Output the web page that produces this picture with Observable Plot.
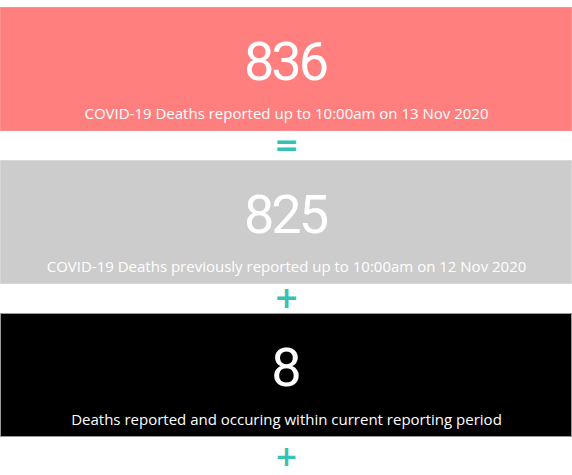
<!DOCTYPE html>
<html>
<head>
<meta charset="utf-8">
<script src="https://cdn.jsdelivr.net/npm/d3@7"></script>
<script src="https://cdn.jsdelivr.net/npm/@observablehq/plot@0.6"></script>
<style>
  html, body { margin: 0; padding: 0; background: #ffffff; }
  #chart svg { display: block; }
  .num text { letter-spacing: -3px; }
</style>
</head>
<body>
<div id="chart"></div>
<script>
const panelIndex = [0, 1, 2];
const values = [836, 825, 8];
const labels = [
  "COVID-19 Deaths reported up to 10:00am on 13 Nov 2020",
  "COVID-19 Deaths previously reported up to 10:00am on 12 Nov 2020",
  "Deaths reported and occuring within current reporting period"
];
const panelColors = ["#FF7F7F", "#CCCCCC", "#000000"];
const borderColors = ["#FF9090", "#D8D8D8", "#9A9A9A"];
const operators = ["=", "+", "+"];

const rows = panelIndex.map((i) => ({
  i,
  value: values[i],
  label: labels[i],
  color: panelColors[i],
  border: borderColors[i],
  op: operators[i]
}));

const teal = "#35C2B3";

const chart = Plot.plot({
  width: 572,
  height: 475,
  margin: 0,
  style: { background: "#ffffff" },
  x: { axis: null },
  y: {
    type: "band",
    domain: panelIndex,
    range: [6, 439],
    paddingInner: 0.187,
    paddingOuter: 0,
    axis: null
  },
  marks: [
    Plot.cell(rows, { y: "i", fill: "color", stroke: "border", strokeWidth: 1, inset: 0.5 }),
    Plot.text(rows, {
      y: "i",
      text: (d) => String(d.value),
      fill: "#ffffff",
      fontSize: 54,
      fontFamily: "Roboto, sans-serif",
      className: "num",
      dx: -1.5,
      dy: -7
    }),
    Plot.text(rows, {
      y: "i",
      text: "label",
      fill: "#ffffff",
      fontSize: 15,
      fontFamily: "'Open Sans', 'Noto Sans', sans-serif",
      dy: 45
    }),
    Plot.text(rows, {
      filter: (d) => d.i < 2,
      y: "i",
      text: "op",
      fill: teal,
      fontSize: 30,
      fontWeight: "bold",
      fontFamily: "'DejaVu Sans', sans-serif",
      dy: 76
    }),
    Plot.text(rows, {
      filter: (d) => d.i === 2,
      y: "i",
      text: "op",
      fill: teal,
      fontSize: 28,
      fontWeight: "bold",
      fontFamily: "'DejaVu Sans', sans-serif",
      dy: 82
    })
  ]
});

document.getElementById("chart").appendChild(chart);
</script>
</body>
</html>
